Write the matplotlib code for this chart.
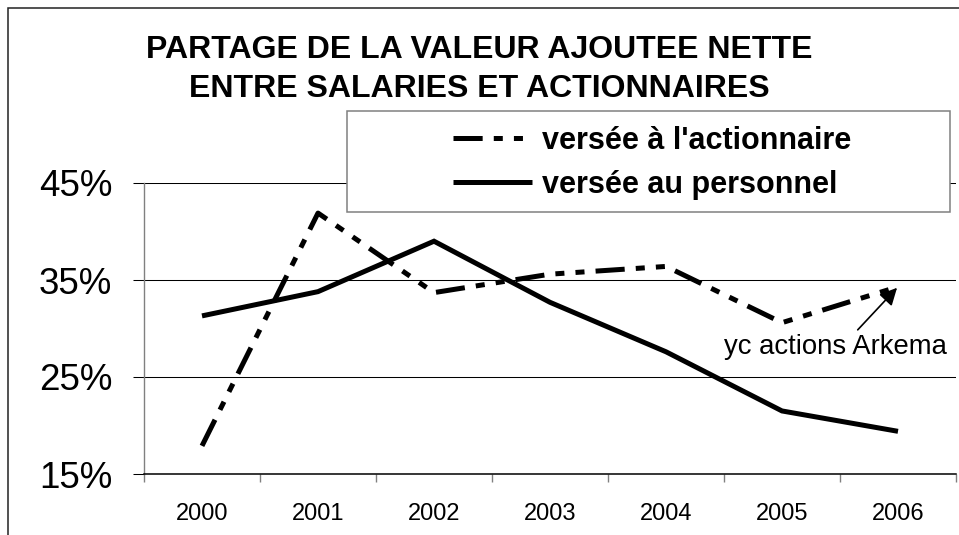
import matplotlib
matplotlib.use('Agg')
from matplotlib import pyplot as plt
from matplotlib.patches import Rectangle
from matplotlib.lines import Line2D

plt.rcParams['font.family'] = ['Liberation Sans', 'DejaVu Sans']
plt.rcParams['lines.scale_dashes'] = False

years = ['2000', '2001', '2002', '2003', '2004', '2005', '2006']
actionnaire = [17.9, 41.9, 33.7, 35.6, 36.4, 30.6, 34.3]
personnel = [31.3, 33.8, 39.0, 32.7, 27.6, 21.5, 19.4]
yticks = [15, 25, 35, 45]
ytick_labels = ['15%', '25%', '35%', '45%']

title = 'PARTAGE DE LA VALEUR AJOUTEE NETTE\nENTRE SALARIES ET ACTIONNAIRES'
label_act = "versée à l'actionnaire"
label_pers = 'versée au personnel'
note = 'yc actions Arkema'

W, H = 959, 535
fig = plt.figure(figsize=(W / 100, H / 100), dpi=100)
ax = fig.add_axes([144 / W, 1 - 474 / H, 812 / W, 291 / H])

dash_pat = (0, (21, 8, 6.5, 8, 6.5, 8))
x = range(len(years))
ax.plot(x, actionnaire, color='black', lw=3.6, linestyle=dash_pat,
        dash_capstyle='butt', solid_joinstyle='miter', zorder=3)
ax.plot(x, personnel, color='black', lw=3.6, solid_capstyle='butt',
        solid_joinstyle='miter', zorder=4)

ax.set_xlim(-0.5, len(years) - 0.5)
ax.set_ylim(15, 45)
ax.set_yticks(yticks)
ax.set_yticklabels(ytick_labels, fontsize=26.5)
ax.set_xticks(list(x))
ax.set_xticklabels(years, fontsize=17)
ax.set_xticks([i - 0.5 for i in range(len(years) + 1)], minor=True)
ax.tick_params(axis='x', which='major', length=0, pad=21)
ax.tick_params(axis='x', which='minor', length=5.8, width=1, color='#808080', direction='out')
ax.tick_params(axis='y', length=8, width=0.75, color='black', direction='out', pad=15)
ax.yaxis.grid(True, color='black', lw=0.75)
ax.set_axisbelow(True)

for s in ['top', 'right']:
    ax.spines[s].set_visible(False)
ax.spines['left'].set_color('#808080')
ax.spines['left'].set_linewidth(1)
ax.spines['left'].set_bounds(15, 45)
ax.spines['bottom'].set_color('black')
ax.spines['bottom'].set_linewidth(1.1)

# annotation
ax.annotate('', xy=(6, actionnaire[6]), xytext=(-29, -31), textcoords='offset points',
            arrowprops=dict(arrowstyle='-|>', color='black', lw=1.2, mutation_scale=26,
                            shrinkA=0, shrinkB=1))
ax.annotate(note, xy=(6, actionnaire[6]), xytext=(-45, -43.5), textcoords='offset points',
            ha='center', va='center', fontsize=19.8)

# title
fig.text(479 / W, 1 - 69.5 / H, title, ha='center', va='center', fontsize=23,
         fontweight='bold', linespacing=1.38)

# legend box
fig.add_artist(Rectangle((347 / W, 1 - 212 / H), 603 / W, 101 / H,
                         transform=fig.transFigure, facecolor='white',
                         edgecolor='#808080', lw=1.1, zorder=1))
handles = [Line2D([], [], color='black', lw=3.6, linestyle=dash_pat, dash_capstyle='butt'),
           Line2D([], [], color='black', lw=3.6, solid_capstyle='butt')]
fig.legend(handles, [label_act, label_pers], loc='center',
           bbox_to_anchor=(652 / W, 1 - 163 / H), frameon=False,
           prop={'weight': 'bold', 'size': 22}, handlelength=2.6,
           handletextpad=0.33, labelspacing=0.45, borderpad=0)

# outer frame
fig.add_artist(Rectangle((8 / W, -0.2), 1.5, 1.2 - 8 / H, transform=fig.transFigure,
                         facecolor='none', edgecolor='#222222', lw=1.1, zorder=0))

fig.savefig('out.png', dpi=100)
